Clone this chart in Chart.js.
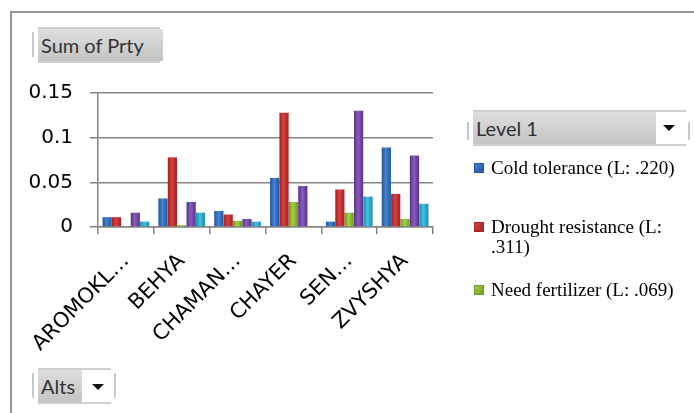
<!DOCTYPE html>
<html>
<head>
<meta charset="utf-8">
<script src="https://cdn.jsdelivr.net/npm/chart.js@4.4.1/dist/chart.umd.min.js"></script>
<style>
  html, body { margin: 0; padding: 0; background: #fff; overflow: hidden; }
  #wrap { position: relative; width: 694px; height: 413px; }
  #frame { position: absolute; left: 10px; top: 11px; width: 720px; height: 440px;
           border-top: 2px solid #959595; border-left: 2px solid #959595; }
  #chart { position: absolute; left: 0; top: 0; }
  .bar { position: absolute; width: 2px; background: #c8c8c8; }
  .btn { position: absolute; box-sizing: border-box; border-top: 2px solid #cfcfcf; border-bottom: 2px solid #cfcfcf;
         background: #fff; font-family: Lato, "Open Sans", sans-serif; font-size: 20px; color: #333; }
  .btn .face { position: absolute; left: 0; top: 0; bottom: 0;
               background: linear-gradient(#dedede, #c4c4c4); padding-left: 3px; line-height: 32px; white-space: nowrap; }
  .btn .arrow { position: absolute; width: 0; height: 0; border-left: 6px solid transparent;
                border-right: 6px solid transparent; border-top: 6px solid #111; }
  #legend { position: absolute; left: 474px; top: 0; font-family: "Liberation Serif", "Times New Roman", serif;
            font-size: 19px; color: #000; }
  .item { position: absolute; left: 0; width: 210px; }
  .item .sw { position: absolute; left: 0; width: 10px; height: 10px; box-sizing: border-box; }
  .item .tx { position: absolute; left: 17px; width: 192px; line-height: 20px; white-space: normal; }
</style>
</head>
<body>
<div id="wrap">
  <div id="frame"></div>
  <canvas id="chart" width="694" height="413"></canvas>

  <div class="bar" style="left:32px;top:32px;height:25px"></div>
  <div class="btn" style="left:38px;top:27px;width:122px;height:36px">
    <div class="face" style="width:122px">Sum of Prty</div>
  </div>

  <div class="bar" style="left:467px;top:122px;height:18px"></div>
  <div class="btn" style="left:473px;top:110px;width:213px;height:36px">
    <div class="face" style="width:180px">Level 1</div>
    <div class="arrow" style="left:190px;top:13px"></div>
  </div>
  <div class="bar" style="left:688px;top:122px;height:18px"></div>

  <div class="bar" style="left:32px;top:373px;height:25px"></div>
  <div class="btn" style="left:38px;top:368px;width:73px;height:36px">
    <div class="face" style="width:41px">Alts</div>
    <div class="arrow" style="left:54px;top:14px"></div>
  </div>
  <div class="bar" style="left:114px;top:373px;height:25px"></div>

  <div id="legend"></div>
</div>

<script>
// categories (pivot row labels, truncated as in the chart)
const alts = ['AROMOKL…', 'BEHYA', 'CHAMAN…', 'CHAYER', 'SEN…', 'ZVYSHYA'];

// series values (Sum of Prty)
const coldTolerance     = [0.011, 0.032, 0.018, 0.055, 0.006, 0.089];
const droughtResistance = [0.011, 0.078, 0.014, 0.128, 0.042, 0.037];
const needFertilizer    = [0.001, 0.002, 0.007, 0.028, 0.016, 0.009];
const series4           = [0.016, 0.028, 0.009, 0.046, 0.130, 0.080];
const series5           = [0.006, 0.016, 0.006, 0.001, 0.034, 0.026];

const seriesNames = ['Cold tolerance (L: .220)', 'Drought resistance (L: .311)',
                     'Need fertilizer (L: .069)', 'Series 4', 'Series 5'];

// y axis ticks
const yTicks = [0, 0.05, 0.1, 0.15];

// bar colours: light centre / dark edge
const lightColors = ['#4486d4', '#dc3e3e', '#a6d044', '#8a5cbc', '#3cc4e0'];
const edgeColors  = ['#22549c', '#a02224', '#6e9a22', '#57318a', '#1e8aa6'];

// shaded bars like Excel's cylinder-look columns
const barShade = {
  id: 'barShade',
  beforeDatasetsDraw(chart) {
    const ctx = chart.ctx;
    chart.data.datasets.forEach((ds, i) => {
      chart.getDatasetMeta(i).data.forEach(bar => {
        const half = bar.width / 2;
        const g = ctx.createLinearGradient(bar.x - half, 0, bar.x + half, 0);
        g.addColorStop(0, edgeColors[i]);
        g.addColorStop(0.45, lightColors[i]);
        g.addColorStop(1, edgeColors[i]);
        bar.options = Object.assign({}, bar.options, { backgroundColor: g });
      });
    });
  }
};

const values = [coldTolerance, droughtResistance, needFertilizer, series4, series5];
const datasets = values.map((v, i) => ({
  label: seriesNames[i],
  data: v,
  backgroundColor: lightColors[i],
  borderWidth: 0,
  categoryPercentage: 0.84,
  barPercentage: 0.98
}));

const canvas = document.getElementById('chart');
const chart = new Chart(canvas, {
  type: 'bar',
  data: { labels: alts, datasets: datasets },
  options: {
    responsive: false,
    animation: false,
    layout: { padding: { top: 93, right: 261, left: 0, bottom: 0 } },
    plugins: { legend: { display: false }, tooltip: { enabled: false } },
    scales: {
      x: {
        afterFit: (scale) => { scale.height = 413 - 227; },
        grid: { drawOnChartArea: false, drawTicks: true, tickLength: 7, color: '#858585', lineWidth: 1.5 },
        border: { display: true, color: '#858585', width: 1.5 },
        ticks: {
          autoSkip: false, minRotation: 45, maxRotation: 45, padding: 15,
          color: '#000', font: { family: 'DejaVu Sans', size: 21 }
        }
      },
      y: {
        min: 0, max: 0.15,
        afterFit: (scale) => { scale.width = 98; },
        afterBuildTicks: (scale) => { scale.ticks = yTicks.map(v => ({ value: v })); },
        grid: { color: '#858585', lineWidth: 1.5, tickLength: 8 },
        border: { display: true, color: '#858585', width: 1.5 },
        ticks: {
          padding: 17, color: '#000', font: { family: 'DejaVu Sans', size: 20 },
          callback: (v) => String(Math.round(v * 100) / 100)
        }
      }
    }
  },
  plugins: [barShade]
});

// legend (the chart area shows only the first three entries)
const legendTops = [158, 217, 280];
const legend = document.getElementById('legend');
legendTops.forEach((top, i) => {
  const item = document.createElement('div');
  item.className = 'item';
  item.style.top = top + 'px';
  const sw = document.createElement('div');
  sw.className = 'sw';
  sw.style.top = '5px';
  sw.style.background = 'linear-gradient(135deg, ' + lightColors[i] + ', ' + edgeColors[i] + ')';
  sw.style.border = '1px solid ' + edgeColors[i];
  const tx = document.createElement('div');
  tx.className = 'tx';
  tx.textContent = seriesNames[i];
  item.appendChild(sw);
  item.appendChild(tx);
  legend.appendChild(item);
});
</script>
</body>
</html>
